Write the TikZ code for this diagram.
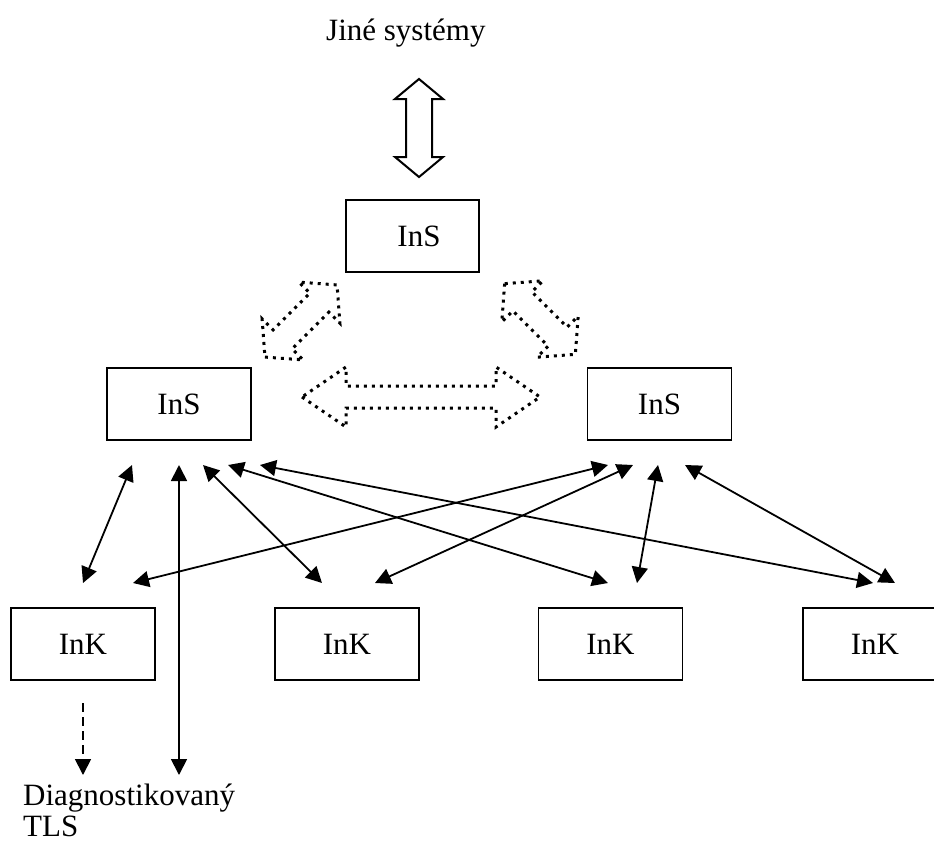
\documentclass[tikz,border=0pt]{standalone}
\usepackage{fontspec}
\setmainfont{Liberation Serif}
\usetikzlibrary{arrows.meta}
\newcommand\dblblock[4]{({-#1},0) -- ({-#1+#2},{#3}) -- ({-#1+#2},{#4}) -- ({#1-#2},{#4}) -- ({#1-#2},{#3}) -- ({#1},0) -- ({#1-#2},{-#3}) -- ({#1-#2},{-#4}) -- ({-#1+#2},{-#4}) -- ({-#1+#2},{-#3}) -- cycle}
\begin{document}
\begin{tikzpicture}[x=1pt,y=-1pt,
  box/.style={draw, line width=1.6pt, minimum width=144pt, minimum height=72pt, inner sep=0pt, font=\fontsize{31}{31}\selectfont},
  link/.style={line width=1.8pt, {Triangle[length=16pt,width=16pt]}-{Triangle[length=16pt,width=16pt]}},
  onelink/.style={line width=1.8pt, -{Triangle[length=16pt,width=16pt]}},
  block/.style={line width=2pt, line join=miter},
  dotblock/.style={line width=3pt, dash pattern=on 3pt off 5pt},
  lbl/.style={font=\fontsize{31}{31}\selectfont, inner sep=0pt}]
\useasboundingbox (0,0) rectangle (934,844);

% boxes
\node[box, minimum width=133pt] (top) at (412.5,236) {\hspace*{13pt}InS};
\node[box] (insL) at (179,404) {InS};
\node[box] (insR) at (659.5,404) {InS};
\node[box] (k1) at (83,644) {InK};
\node[box] (k2) at (347,644) {InK};
\node[box] (k3) at (610.5,644) {InK};
\node[box] (k4) at (875,644) {InK};

% labels
\node[lbl, anchor=base west] (js) at (326,40) {Jiné systémy};
\node[lbl, anchor=base west, align=left] (tls) at (23,836) {Diagnostikovaný\\TLS};

% block arrows
\begin{scope}[shift={(419,128)}, rotate=90]
  \draw[block] \dblblock{49}{20}{24}{13};
\end{scope}
\begin{scope}[shift={(301,321)}, rotate=45]
  \draw[dotblock] \dblblock{51}{25}{29}{13.5};
\end{scope}
\begin{scope}[shift={(540,319)}, rotate=-45]
  \draw[dotblock] \dblblock{50}{25}{29}{13.5};
\end{scope}
\begin{scope}[shift={(421,397)}]
  \draw[dotblock] \dblblock{119}{44}{30}{11};
\end{scope}

% connector end points
\coordinate (l1) at (132,465);
\coordinate (l2) at (179,465);
\coordinate (l3) at (203,465);
\coordinate (l4) at (228,465);
\coordinate (l5) at (260,465);
\coordinate (r1) at (608,465);
\coordinate (r2) at (633,465);
\coordinate (r3) at (658,465);
\coordinate (r4) at (685,465);
\coordinate (k1a) at (83,583);
\coordinate (k1b) at (133,583);
\coordinate (k2a) at (322,583);
\coordinate (k2b) at (375,583);
\coordinate (k3a) at (608,583);
\coordinate (k3b) at (637,583);
\coordinate (k4a) at (873,583);
\coordinate (k4b) at (895,583);
\coordinate (tlsA) at (179,775);
\coordinate (dashS) at (83,703);
\coordinate (dashE) at (83,775);

% connectors
\draw[link] (l1) -- (k1a);
\draw[link] (l2) -- (tlsA);
\draw[link] (l3) -- (k2a);
\draw[link] (l4) -- (k3a);
\draw[link] (l5) -- (k4a);
\draw[link] (r1) -- (k1b);
\draw[link] (r2) -- (k2b);
\draw[link] (r3) -- (k3b);
\draw[link] (r4) -- (k4b);
\draw[onelink, dash pattern=on 9pt off 5pt] (dashS) -- (dashE);
\end{tikzpicture}
\end{document}
